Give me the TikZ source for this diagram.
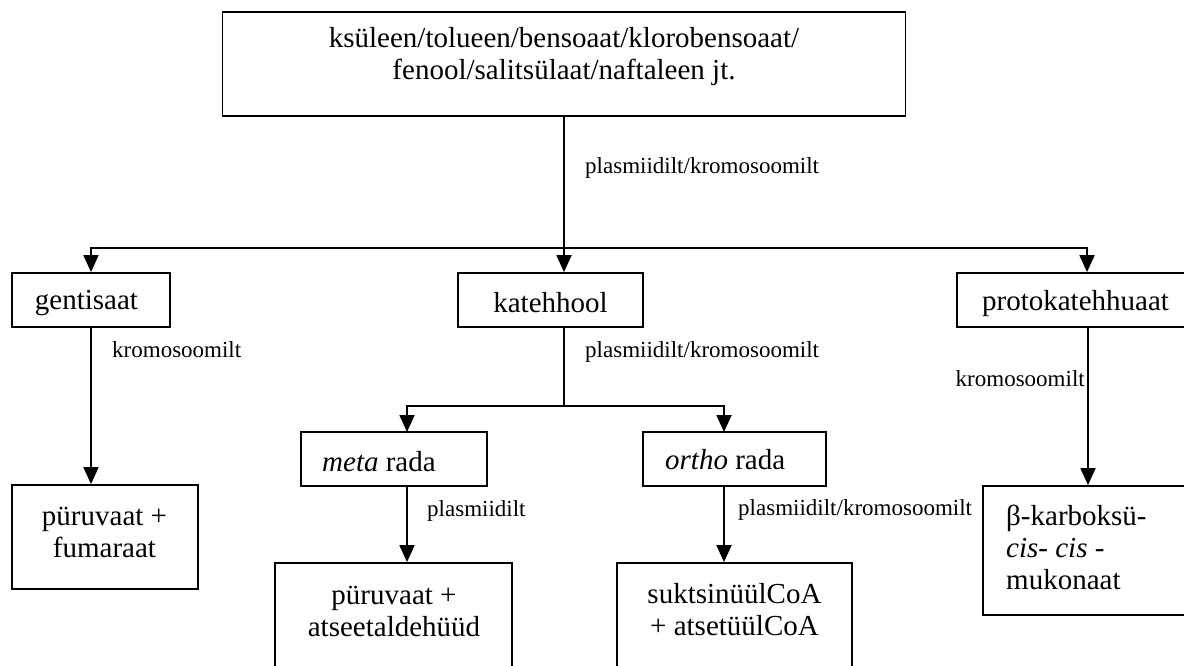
\documentclass[tikz,border=0pt]{standalone}
\usepackage{fontspec}
\setmainfont{Liberation Serif}
\usetikzlibrary{arrows.meta}
\begin{document}
\begin{tikzpicture}[x=1pt,y=-1pt,
  box/.style={draw, line width=1.8pt, rectangle, inner sep=0pt},
  txt/.style={inner sep=0pt, align=center, font=\fontsize{29}{32}\selectfont},
  lbl/.style={inner sep=0pt, font=\fontsize{23}{26}\selectfont},
  arr/.style={line width=1.8pt, -{Triangle[length=17pt,width=15pt]}},
  ln/.style={line width=1.8pt}]
\fill[white] (0,0) rectangle (1184,665);
\useasboundingbox (0,0) rectangle (1184,665);

% boxes
\node[box, minimum width=683pt, minimum height=104pt] (top) at (564,64) {};
\node[box, minimum width=158pt, minimum height=54pt] (gen) at (91,300) {};
\node[box, minimum width=185pt, minimum height=54pt] (kat) at (550.5,300) {};
\node[box, minimum width=237pt, minimum height=54pt] (proto) at (1075.5,300) {};
\node[box, minimum width=186pt, minimum height=104pt] (pf) at (105,537) {};
\node[box, minimum width=186pt, minimum height=54pt] (meta) at (394,459) {};
\node[box, minimum width=183pt, minimum height=54pt] (ortho) at (734.5,459) {};
\node[box, minimum width=237pt, minimum height=130pt] (b1) at (393.5,628) {};
\node[box, minimum width=235pt, minimum height=130pt] (b2) at (734.5,628) {};
\node[box, minimum width=210pt, minimum height=129pt] (beta) at (1088,550.5) {};

% texts
\node[txt] (topt) at (564,57) {ksüleen/tolueen/bensoaat/klorobensoaat/\\fenool/salitsülaat/naftaleen jt.};
\node[txt] (gent) at (86.5,303) {gentisaat};
\node[txt] (katt) at (550.5,303) {katehhool};
\node[txt] (protot) at (1075.5,304) {protokatehhuaat};
\node[txt] (pft) at (104.5,532) {püruvaat +\\fumaraat};
\node[txt, anchor=west] (metat) at (322,462) {\textit{meta} rada};
\node[txt, anchor=west] (orthot) at (665,460) {\textit{ortho} rada};
\node[txt] (b1t) at (394,611) {püruvaat +\\atseetaldehüüd};
\node[txt] (b2t) at (734.5,610) {suktsinüülCoA\\+ atsetüülCoA};
\node[txt, anchor=west, align=left] (betat) at (1006,547) {β-karboksü-\\\textit{cis}- \textit{cis} -\\mukonaat};

% connector points
\coordinate (j1) at (564,248);
\coordinate (j2) at (564,406);
\coordinate (pin) at ([xshift=11.5pt]proto.north);
\coordinate (ma) at (407,432);
\coordinate (oa) at (724,432);

% connectors
\draw[arr] (top.south) -- (top.south |- kat.north);
\draw[arr] (j1) -| (gen.north);
\draw[arr] (j1) -| (pin);
\draw[arr] (gen.south) -- (gen.south |- pf.north);
\draw[ln] (top.south |- kat.south) -- (j2);
\draw[arr] (j2) -| (ma);
\draw[arr] (j2) -| (oa);
\draw[arr] (ma |- meta.south) -- (ma |- b1.north);
\draw[arr] (oa |- ortho.south) -- (oa |- b2.north);
\draw[arr] (beta.north |- proto.south) -- (beta.north);

% labels
\node[lbl, anchor=west] (l1) at (585,168) {plasmiidilt/kromosoomilt};
\node[lbl, anchor=west] (l2) at (112,350) {kromosoomilt};
\node[lbl, anchor=west] (l3) at (585,352) {plasmiidilt/kromosoomilt};
\node[lbl, anchor=east] (l4) at (1085,379) {kromosoomilt};
\node[lbl, anchor=west] (l5) at (427,511) {plasmiidilt};
\node[lbl, anchor=west] (l6) at (738,510) {plasmiidilt/kromosoomilt};
\end{tikzpicture}
\end{document}
